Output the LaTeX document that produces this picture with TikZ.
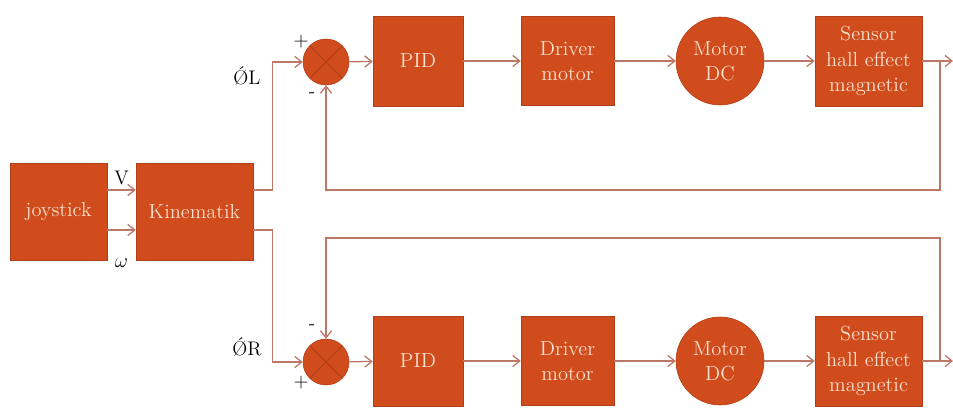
\documentclass[tikz,border=0pt]{standalone}
\usetikzlibrary{arrows.meta,positioning}
\definecolor{blockfill}{RGB}{209,76,28}
\definecolor{blockedge}{RGB}{176,62,24}
\definecolor{blocktext}{RGB}{250,224,206}
\definecolor{wire}{RGB}{190,118,102}

\begin{document}
\begin{tikzpicture}[x=0.025cm,y=-0.025cm,
every node/.style={align=center},
block/.style={draw=blockedge,fill=blockfill,text=blocktext,minimum width=2.25cm,minimum height=2.25cm,inner sep=1pt,font=\fontsize{14.5}{18}\selectfont},
motor/.style={circle,draw=blockedge,fill=blockfill,text=blocktext,minimum size=2.2cm,inner sep=0pt,font=\fontsize{14.5}{18}\selectfont},
summer/.style={circle,draw=blockedge,fill=blockfill,minimum size=1.15cm,inner sep=0pt,
  path picture={\draw[blockedge,line width=0.6pt] (path picture bounding box.north west) -- (path picture bounding box.south east)
  (path picture bounding box.north east) -- (path picture bounding box.south west);}},
sig/.style={draw=wire,line width=0.9pt,-{Straight Barb[length=5pt,width=8pt]}},
lbl/.style={font=\fontsize{14}{16}\selectfont,inner sep=1pt}
]
\useasboundingbox (0,0) rectangle (953,414);

% input side
\node[block,minimum width=2.425cm,minimum height=2.425cm] (joy) at (58.5,211.5) {joystick};
\node[block,minimum width=2.925cm,minimum height=2.425cm] (kin) at (194.5,211.5) {Kinematik};

% left wheel loop
\node[summer] (sumL) at (326,62) {};
\node[block] (pidL) at (418,61) {PID};
\node[block,minimum width=2.325cm,minimum height=2.225cm] (drvL) at (567.5,61) {Driver\\motor};
\node[motor] (motL) at (720,61) {Motor\\DC};
\node[block,minimum width=2.675cm] (senL) at (868.5,61) {Sensor\\hall effect\\magnetic};
\coordinate (tapL) at (940,61);
\coordinate (outL) at (953,61);

% right wheel loop
\node[summer] (sumR) at (326,362) {};
\node[block] (pidR) at (418,361) {PID};
\node[block,minimum width=2.325cm,minimum height=2.225cm] (drvR) at (567.5,361) {Driver\\motor};
\node[motor] (motR) at (720,361) {Motor\\DC};
\node[block,minimum width=2.675cm] (senR) at (868.5,361) {Sensor\\hall effect\\magnetic};
\coordinate (tapR) at (940,361);
\coordinate (outR) at (953,361);

% joystick -> kinematik
\draw[sig] ([yshift=0.5375cm]joy.east) -- node[lbl,above=2pt] {V} ([yshift=0.5375cm]kin.west);
\draw[sig] ([yshift=-0.4625cm]joy.east) -- node[lbl,below=0.68cm] {\Large$\omega$} ([yshift=-0.4625cm]kin.west);

% setpoints
\draw[sig] ([yshift=0.5375cm]kin.east) -- ++(19,0) |- (sumL.west);
\draw[sig] ([yshift=-0.4625cm]kin.east) -- ++(19,0) |- (sumR.west);
\node[lbl] (phiL) at (247,76) {\'{\O}L};
\node[lbl] (phiR) at (247,347) {\'{\O}R};

% signs
\node[lbl] (plusL) at ([shift={(-25,-20)}]sumL.center) {+};
\node[lbl] (minusL) at ([shift={(-14,33)}]sumL.center) {-};
\node[lbl] (minusR) at ([shift={(-14,-35)}]sumR.center) {-};
\node[lbl] (plusR) at ([shift={(-25,21)}]sumR.center) {+};

% forward paths
\draw[sig] (sumL) -- (pidL);
\draw[sig] (pidL) -- (drvL);
\draw[sig] (drvL) -- (motL);
\draw[sig] (motL) -- (senL);
\draw[sig] (senL) -- (outL);
\draw[sig] (sumR) -- (pidR);
\draw[sig] (pidR) -- (drvR);
\draw[sig] (drvR) -- (motR);
\draw[sig] (motR) -- (senR);
\draw[sig] (senR) -- (outR);

% feedback
\draw[sig] (tapL) -- (tapL |- 0,190) -| (sumL.south);
\draw[sig] (tapR) -- (tapR |- 0,238) -| (sumR.north);
\end{tikzpicture}
\end{document}
